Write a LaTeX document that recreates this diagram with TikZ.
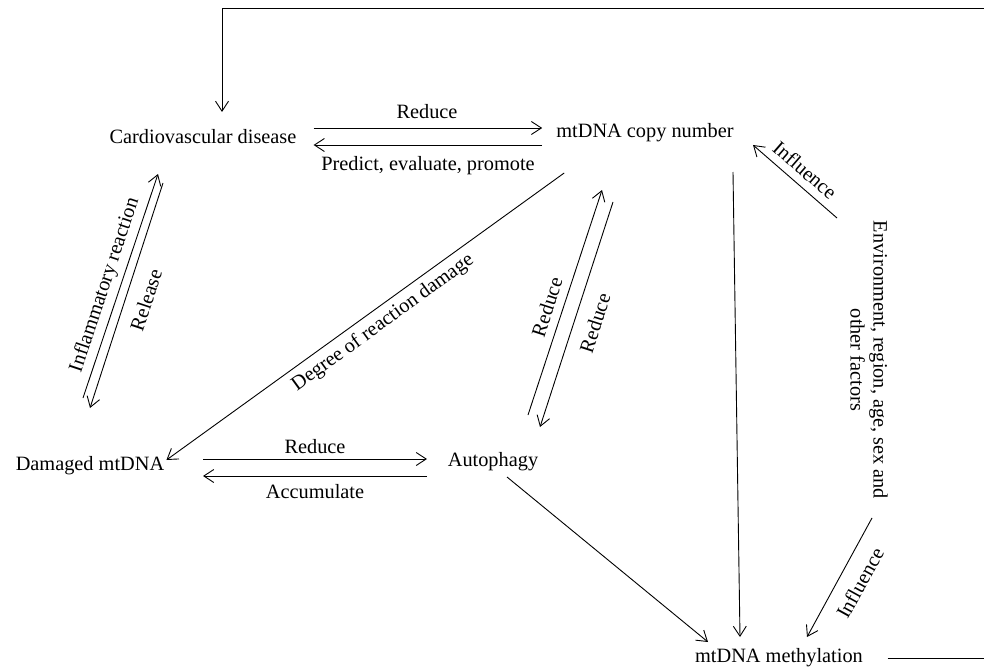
\documentclass[tikz,border=0pt]{standalone}
\usepackage{fontspec}
\setmainfont{Liberation Serif}
\usetikzlibrary{arrows.meta}
\begin{document}
\begin{tikzpicture}[x=1bp,y=-1bp,
  txt/.style={inner sep=0pt,font=\fontsize{20.4pt}{23pt}\selectfont},
  lbl/.style={inner sep=0pt,font=\fontsize{20.4pt}{23pt}\selectfont},
  arr/.style={-{Straight Barb[length=10bp,width=13bp]},line width=0.9bp},
  ln/.style={line width=0.9bp}]
\useasboundingbox (0,0) rectangle (984,669);
% nodes
\node[txt] (cvd) at (203,137) {Cardiovascular disease};
\node[txt] (copy) at (645,133) {mtDNA copy number};
\node[txt] (dmg) at (90,466) {Damaged mtDNA};
\node[txt] (auto) at (493,462) {Autophagy};
\node[txt] (meth) at (779,658) {mtDNA methylation};
\node[txt,rotate=-90,align=center] (env) at (869,360) {Environment, region, age, sex and\\other factors};
% labels
\node[lbl] (l1) at (427,112) {Reduce};
\node[lbl] (l2) at (428,166) {Predict, evaluate, promote};
\node[lbl,rotate=36] (l3) at (383,323) {Degree of reaction damage};
\node[lbl,rotate=71.6] (l4) at (105,285) {Inflammatory reaction};
\node[lbl,rotate=71.6] (l5) at (146,300) {Release};
\node[lbl,rotate=72] (l6) at (547,307) {Reduce};
\node[lbl,rotate=72] (l7) at (595,323) {Reduce};
\node[lbl] (l8) at (315,447) {Reduce};
\node[lbl] (l9) at (315,492) {Accumulate};
\node[lbl,rotate=-41] (l10) at (805,170) {Influence};
\node[lbl,rotate=61] (l11) at (860,583) {Influence};
% connectors
\draw[arr] ([shift={(17,-9)}]cvd.east) -- ([shift={(-14,-5)}]copy.west);
\draw[arr] ([shift={(-14,12)}]copy.west) -- ([shift={(17,8)}]cvd.east);
\draw[arr] ([shift={(8,40)}]copy.west) -- ([shift={(2,-6)}]dmg.east);
\draw[arr] ([shift={(-7,-68)}]dmg.center) -- ([shift={(-45,37)}]cvd.center);
\draw[arr] ([shift={(-40,46)}]cvd.center) -- ([shift={(0,-58)}]dmg.center);
\draw[arr] ([shift={(35,-47)}]auto.center) -- ([shift={(-43,57)}]copy.center);
\draw[arr] ([shift={(-32,69)}]copy.center) -- ([shift={(47,-35)}]auto.center);
\draw[arr] ([shift={(113,-7)}]dmg.center) -- ([shift={(-66,-3)}]auto.center);
\draw[arr] ([shift={(-66,14)}]auto.center) -- ([shift={(113,10)}]dmg.center);
\draw[arr] ([shift={(88,39)}]copy.center) -- ([shift={(-39,-21)}]meth.center);
\draw[arr] ([shift={(14,15)}]auto.center) -- ([shift={(-71,-16)}]meth.center);
\draw[arr] ([shift={(-32,-142)}]env.center) -- ([shift={(108,12)}]copy.center);
\draw[arr] ([shift={(3,158)}]env.center) -- ([shift={(28,-21)}]meth.center);
\draw[arr] ([xshift=109]meth.center) -| (1000,8) -| ([shift={(19,-25)}]cvd.center);
\end{tikzpicture}
\end{document}
